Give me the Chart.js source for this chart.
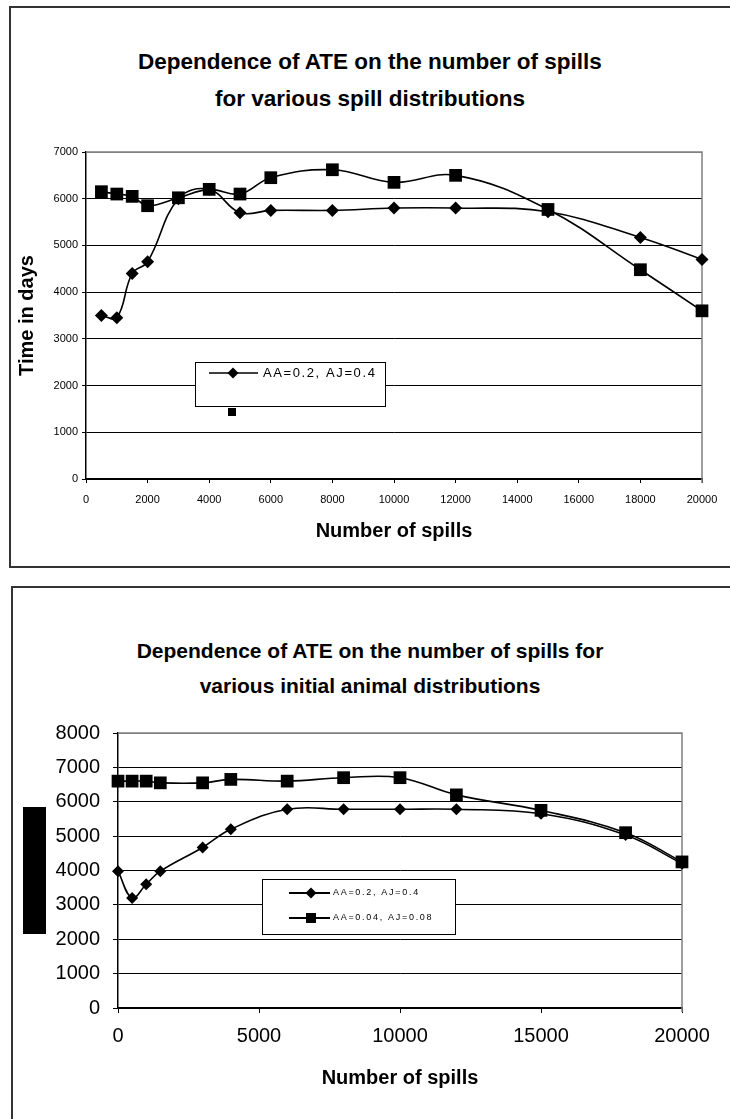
<!DOCTYPE html>
<html lang="en">
<head>
    <meta charset="UTF-8">
    <title>ATE vs number of spills</title>
    <script src="https://cdn.jsdelivr.net/npm/chart.js"></script>
    <style>
        body { margin: 0; width: 730px; height: 1119px; overflow: hidden; background: #fff; position: relative; font-family: 'Liberation Sans', Arial, sans-serif; }
        .frame { position: absolute; border: 2px solid #333; background: #fff; }
        .title { position: absolute; left: 0; width: 740px; text-align: center; font-weight: bold; color: #000; }
        canvas { position: absolute; left: 0; }
    </style>
</head>
<body>
    <!-- marcos de los dos graficos -->
    <div class="frame" style="left:9px; top:6px; width:740px; height:558px;"></div>
    <div class="frame" style="left:11px; top:586px; width:740px; height:600px;"></div>

    <div class="title" style="top:43px; font-size:22.5px; line-height:37px;">Dependence of ATE on the number of spills<br>for various spill distributions</div>
    <div class="title" style="top:633px; font-size:21px; line-height:35px;">Dependence of ATE on the number of spills for<br>various initial animal distributions</div>

    <canvas id="chart1" width="730" height="580" style="top:0px;"></canvas>
    <canvas id="chart2" width="730" height="539" style="top:580px;"></canvas>

    <script>
        // Datos del grafico 1 (distribuciones de vertidos)
        const spills1 = [500, 1000, 1500, 2000, 3000, 4000, 5000, 6000, 8000, 10000, 12000, 15000, 18000, 20000];
        const ate1Diamond = [3500, 3450, 4400, 4650, 6000, 6200, 5700, 5750, 5750, 5800, 5800, 5720, 5170, 4700];
        const ate1Square = [6150, 6100, 6050, 5850, 6020, 6200, 6100, 6450, 6620, 6350, 6500, 5770, 4480, 3600];
        const labels1 = ['AA=0.2, AJ=0.4', ''];
        const yTicks1 = [0, 7000, 1000];   // min, max, paso
        const xTicks1 = [0, 20000, 2000];

        // Datos del grafico 2 (distribuciones iniciales de animales)
        const spills2 = [0, 500, 1000, 1500, 3000, 4000, 6000, 8000, 10000, 12000, 15000, 18000, 20000];
        const ate2Diamond = [3980, 3200, 3600, 3980, 4670, 5200, 5780, 5780, 5780, 5780, 5650, 5030, 4200];
        const ate2Square = [6600, 6600, 6600, 6550, 6550, 6650, 6600, 6700, 6700, 6200, 5750, 5100, 4250];
        const labels2 = ['AA=0.2, AJ=0.4', 'AA=0.04, AJ=0.08'];
        const yTicks2 = [0, 8000, 1000];
        const xTicks2 = [0, 20000, 5000];

        Chart.defaults.font.family = "'Liberation Sans', Arial, sans-serif";
        Chart.defaults.color = '#000';

        function toPoints(xs, ys) {
            return xs.map((x, i) => ({ x: x, y: ys[i] }));
        }

        // Dibuja un marcador (rombo o cuadrado) a mano
        function drawMarker(ctx, style, x, y, size) {
            ctx.beginPath();
            if (style === 'rectRot') {
                ctx.moveTo(x - size, y);
                ctx.lineTo(x, y - size);
                ctx.lineTo(x + size, y);
                ctx.lineTo(x, y + size);
                ctx.closePath();
            } else {
                ctx.rect(x - size, y - size, size * 2, size * 2);
            }
            ctx.fill();
        }

        // Borde gris superior/derecho del area de trazado
        const plotBorder = {
            id: 'plotBorder',
            beforeDatasetsDraw(chart) {
                const { ctx, chartArea: a } = chart;
                ctx.save();
                ctx.strokeStyle = '#808080';
                ctx.lineWidth = 1.5;
                ctx.beginPath();
                ctx.moveTo(a.left, a.top);
                ctx.lineTo(a.right, a.top);
                ctx.lineTo(a.right, a.bottom + 4);
                ctx.stroke();
                ctx.restore();
            }
        };

        // Leyenda en caja dentro del grafico (como en Excel)
        const boxLegend = {
            id: 'boxLegend',
            afterDatasetsDraw(chart, args, opts) {
                const ctx = chart.ctx;
                ctx.save();
                if (opts.block) {
                    ctx.fillStyle = '#000';
                    ctx.fillRect(opts.block[0], opts.block[1], opts.block[2], opts.block[3]);
                }
                const [bx, by, bw, bh] = opts.box;
                ctx.fillStyle = '#fff';
                ctx.fillRect(bx, by, bw, bh);
                ctx.strokeStyle = '#000';
                ctx.lineWidth = 1;
                ctx.strokeRect(bx + 0.5, by + 0.5, bw, bh);
                opts.rows.forEach(row => {
                    const ds = chart.data.datasets[row.dataset];
                    ctx.fillStyle = '#000';
                    ctx.strokeStyle = '#000';
                    if (row.line) {
                        ctx.lineWidth = row.lineWidth || 1.5;
                        ctx.beginPath();
                        ctx.moveTo(row.line[0], row.y);
                        ctx.lineTo(row.line[1], row.y);
                        ctx.stroke();
                    }
                    drawMarker(ctx, ds.pointStyle, row.markerX, row.y, row.size);
                    if (ds.label) {
                        ctx.font = row.font;
                        ctx.letterSpacing = row.spacing || '0px';
                        ctx.textBaseline = 'middle';
                        ctx.textAlign = 'left';
                        ctx.fillText(ds.label, row.textX, row.y);
                        ctx.letterSpacing = '0px';
                    }
                });
                ctx.restore();
            }
        };

        function makeChart(id, cfg) {
            const yMax = cfg.yTicks[1];
            return new Chart(document.getElementById(id), {
                type: 'line',
                data: {
                    datasets: [{
                        label: cfg.labels[0],
                        data: toPoints(cfg.xs, cfg.diamond),
                        borderColor: '#000',
                        backgroundColor: '#000',
                        borderWidth: 1.6,
                        pointStyle: 'rectRot',
                        pointRadius: cfg.diamondR,
                        pointBackgroundColor: '#000',
                        pointBorderWidth: 0,
                        tension: 0.4,
                        clip: false
                    }, {
                        label: cfg.labels[1],
                        data: toPoints(cfg.xs, cfg.square),
                        borderColor: '#000',
                        backgroundColor: '#000',
                        borderWidth: 1.6,
                        pointStyle: 'rect',
                        pointRadius: cfg.squareR,
                        pointBackgroundColor: '#000',
                        pointBorderWidth: 0,
                        tension: 0.4,
                        clip: false
                    }]
                },
                options: {
                    responsive: false,
                    animation: false,
                    events: [],
                    layout: { padding: cfg.padding },
                    plugins: {
                        legend: { display: false },
                        tooltip: { enabled: false },
                        title: { display: false },
                        boxLegend: cfg.legend
                    },
                    scales: {
                        x: {
                            type: 'linear',
                            min: cfg.xTicks[0],
                            max: cfg.xTicks[1],
                            afterFit: s => { s.height = cfg.xHeight; },
                            ticks: { stepSize: cfg.xTicks[2], autoSkip: false, maxRotation: 0, font: { size: cfg.tickSize }, padding: cfg.xTickPad, callback: v => String(v) },
                            grid: { drawOnChartArea: false, drawTicks: true, tickLength: cfg.tickLen, color: '#000', tickColor: '#000' },
                            border: { color: '#000', width: 1.5 },
                            title: { display: true, text: 'Number of spills', font: { size: 20, weight: 'bold' }, padding: { top: 0, bottom: cfg.xTitlePad } }
                        },
                        y: {
                            min: cfg.yTicks[0],
                            max: yMax,
                            afterFit: s => { s.width = cfg.yWidth; },
                            ticks: { stepSize: cfg.yTicks[2], font: { size: cfg.tickSize }, padding: cfg.yTickPad, callback: v => String(v) },
                            grid: {
                                drawTicks: true,
                                tickLength: cfg.tickLen,
                                color: c => (c.tick && c.tick.value === yMax) ? '#808080' : '#000',
                                tickColor: '#000',
                                lineWidth: 1
                            },
                            border: { color: '#000', width: 1.5 },
                            title: { display: !!cfg.yTitle, text: cfg.yTitle, font: { size: 20, weight: 'bold' }, padding: { top: 15, bottom: 0 } }
                        }
                    }
                },
                plugins: [plotBorder, boxLegend]
            });
        }

        // Grafico 1
        makeChart('chart1', {
            xs: spills1, diamond: ate1Diamond, square: ate1Square, labels: labels1,
            yTicks: yTicks1, xTicks: xTicks1,
            diamondR: 6.5, squareR: 9,
            padding: { top: 152, right: 28, left: 0, bottom: 0 },
            yWidth: 86, xHeight: 101, tickSize: 11, tickLen: 4,
            xTickPad: 10, yTickPad: 4, xTitlePad: 37,
            yTitle: 'Time in days',
            legend: {
                box: [195, 362, 190, 44],
                rows: [
                    { dataset: 0, y: 373, line: [209, 258], lineWidth: 1.5, markerX: 233, size: 5.5, textX: 263, font: '13px "Liberation Sans", Arial', spacing: '1.6px' },
                    { dataset: 1, y: 412, markerX: 232, size: 4 }
                ]
            }
        });

        // Grafico 2
        makeChart('chart2', {
            xs: spills2, diamond: ate2Diamond, square: ate2Square, labels: labels2,
            yTicks: yTicks2, xTicks: xTicks2,
            diamondR: 6, squareR: 9,
            padding: { top: 153, right: 48, left: 0, bottom: 0 },
            yWidth: 118, xHeight: 111, tickSize: 20, tickLen: 5,
            xTickPad: 11, yTickPad: 13, xTitlePad: 29,
            yTitle: '',
            legend: {
                block: [23, 227, 23, 127],
                box: [262, 299, 193, 55],
                rows: [
                    { dataset: 0, y: 313, line: [289, 330], lineWidth: 2, markerX: 311, size: 5.5, textX: 333, font: '9px "Liberation Sans", Arial', spacing: '1.7px' },
                    { dataset: 1, y: 338, line: [289, 330], lineWidth: 2, markerX: 311, size: 5, textX: 333, font: '9px "Liberation Sans", Arial', spacing: '1.7px' }
                ]
            }
        });
    </script>
</body>
</html>
